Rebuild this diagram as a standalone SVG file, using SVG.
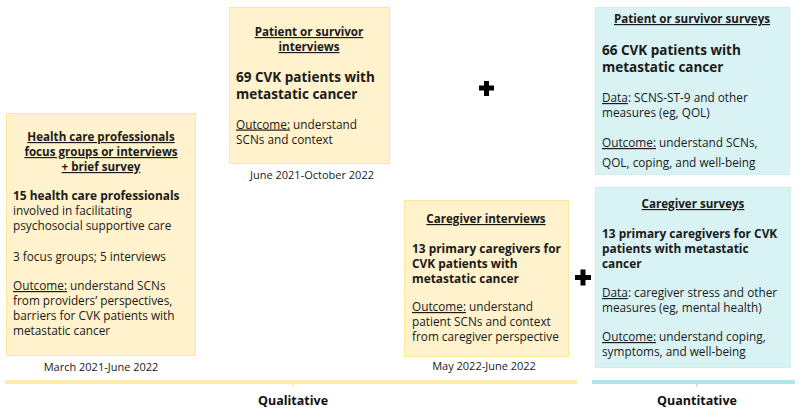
<svg xmlns="http://www.w3.org/2000/svg" width="800" height="412" viewBox="0 0 800 412">
<style>
text{font-family:"Open Sans","Noto Sans",sans-serif;font-size:11.8px;fill:#1a1a1a}
.h{font-weight:bold;text-decoration:underline;text-anchor:middle;font-size:11.6px}
.b{font-weight:bold;font-size:11.9px}
.big{font-weight:bold;font-size:13.5px}
.d{text-anchor:middle;font-size:11px}
.ql{fill:#FFF2CC;stroke:#FFE699;stroke-width:1}
.qt{fill:#D9F3F5;stroke:#CDEFF2;stroke-width:1}
.lab{font-weight:bold;font-size:12.5px;text-anchor:middle;fill:#111}
</style>
<rect width="800" height="412" fill="#fff"/>
<g id="hcp">
<rect class="ql" x="6.5" y="113.5" width="189" height="242"/>
<text class="h" x="101" y="141">Health care professionals</text>
<text class="h" x="101" y="156">focus groups or interviews</text>
<text class="h" x="101" y="171">+ brief survey</text>
<text class="b" x="13" y="200">15 health care professionals</text>
<text x="13" y="215">involved in facilitating</text>
<text x="13" y="230">psychosocial supportive care</text>
<text x="13" y="261">3 focus groups; 5 interviews</text>
<text x="13" y="290"><tspan text-decoration="underline">Outcome:</tspan> understand SCNs</text>
<text x="13" y="305">from providers’ perspectives,</text>
<text x="13" y="320">barriers for CVK patients with</text>
<text x="13" y="335">metastatic cancer</text>
<text class="d" x="101" y="371">March 2021-June 2022</text>
</g>
<g id="patient-interviews">
<rect class="ql" x="229.5" y="7.5" width="160" height="156"/>
<text class="h" x="309" y="36">Patient or survivor</text>
<text class="h" x="309" y="51">interviews</text>
<text class="big" x="236" y="82">69 CVK patients with</text>
<text class="big" x="236" y="99">metastatic cancer</text>
<text x="236" y="128.5"><tspan text-decoration="underline">Outcome:</tspan> understand</text>
<text x="236" y="143.5">SCNs and context</text>
<text class="d" x="312" y="179">June 2021-October 2022</text>
</g>
<g id="caregiver-interviews">
<rect class="ql" x="404.5" y="200.5" width="164" height="156"/>
<text class="h" x="486" y="223">Caregiver interviews</text>
<text class="b" x="412" y="252.5">13 primary caregivers for</text>
<text class="b" x="412" y="267.5">CVK patients with</text>
<text class="b" x="412" y="282.5">metastatic cancer</text>
<text x="412" y="311"><tspan text-decoration="underline">Outcome:</tspan> understand</text>
<text x="412" y="326">patient SCNs and context</text>
<text x="412" y="341">from caregiver perspective</text>
<text class="d" x="484" y="370">May 2022-June 2022</text>
</g>
<g id="patient-surveys">
<rect class="qt" x="595.5" y="7.5" width="194" height="167"/>
<text class="h" x="692" y="23">Patient or survivor surveys</text>
<text class="big" x="602" y="55">66 CVK patients with</text>
<text class="big" x="602" y="72">metastatic cancer</text>
<text x="602" y="102"><tspan text-decoration="underline">Data</tspan>: SCNS-ST-9 and other</text>
<text x="602" y="117">measures (eg, QOL)</text>
<text x="602" y="147"><tspan text-decoration="underline">Outcome:</tspan> understand SCNs,</text>
<text x="602" y="167">QOL, coping, and well-being</text>
</g>
<g id="caregiver-surveys">
<rect class="qt" x="595.5" y="187.5" width="195" height="180"/>
<text class="h" x="693" y="208">Caregiver surveys</text>
<text class="b" x="602" y="237.5">13 primary caregivers for CVK</text>
<text class="b" x="602" y="252.5">patients with metastatic</text>
<text class="b" x="602" y="267.5">cancer</text>
<text x="602" y="297"><tspan text-decoration="underline">Data</tspan>: caregiver stress and other</text>
<text x="602" y="312">measures (eg, mental health)</text>
<text x="602" y="341"><tspan text-decoration="underline">Outcome:</tspan> understand coping,</text>
<text x="602" y="356">symptoms, and well-being</text>
</g>
<g id="connectors">
<path d="M479 85.5h15v5h-15zM484 81h5v15h-5z" fill="#000"/>
<path d="M575 275h16v5h-16zM580.5 269.5h5v16h-5z" fill="#000"/>
</g>
<g id="axis">
<rect x="5" y="380" width="572" height="4" fill="#FFE9B0"/>
<rect x="292" y="384" width="1.5" height="3" fill="#FFE9B0"/>
<rect x="592" y="380" width="203" height="4" fill="#ADE6EB"/>
<rect x="696" y="384" width="1.5" height="3" fill="#ADE6EB"/>
<text class="lab" x="293" y="405">Qualitative</text>
<text class="lab" x="697" y="405">Quantitative</text>
</g>
</svg>
